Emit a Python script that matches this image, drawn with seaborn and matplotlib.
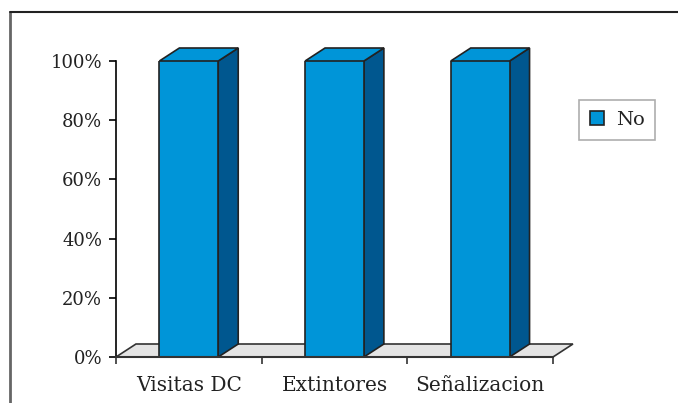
import numpy as np
import pandas as pd
import seaborn as sns
import matplotlib.pyplot as plt
from matplotlib.patches import Polygon
from matplotlib.lines import Line2D

# Datos
categorias = ['Visitas DC', 'Extintores', 'Señalizacion']
valores_no = [100, 100, 100]
serie = 'No'
y_ticks = [0, 20, 40, 60, 80, 100]
y_labels = ['0%', '20%', '40%', '60%', '80%', '100%']

FRONT = '#0095d8'
TOP = '#0095d8'
SIDE = '#00578f'
FLOOR = '#e4e4e4'
EDGE = '#222222'

sns.set_style('white')
plt.rcParams['font.family'] = ['DejaVu Serif']

df = pd.DataFrame({'categoria': categorias, 'valor': valores_no})

fig = plt.figure(figsize=(6.78, 4.03), dpi=100)
ax = fig.add_axes([116 / 678, 46 / 403, 437 / 678, 296 / 403])

sns.barplot(data=df, x='categoria', y='valor', color=FRONT, width=0.404,
            saturation=1, edgecolor=EDGE, linewidth=1.2, label=serie, ax=ax, zorder=3)

ax.set_xlim(-0.5, 2.5)
ax.set_ylim(0, 100)

# profundidad 3D (en unidades de datos)
dx = 20 / 146
dy = 13 / 296 * 100

# piso
floor = Polygon([(-0.5, 0), (-0.5 + dx, dy), (2.5 + dx, dy), (2.5, 0)],
                closed=True, facecolor=FLOOR, edgecolor='#333333', linewidth=1.2,
                clip_on=False, zorder=1)
ax.add_patch(floor)

for p in ax.patches[:len(categorias)]:
    x0 = p.get_x()
    w = p.get_width()
    h = p.get_height()
    x1 = x0 + w
    side = Polygon([(x1, 0), (x1 + dx, dy), (x1 + dx, h + dy), (x1, h)],
                   closed=True, facecolor=SIDE, edgecolor=EDGE, linewidth=1.2,
                   clip_on=False, zorder=2)
    top = Polygon([(x0, h), (x0 + dx, h + dy), (x1 + dx, h + dy), (x1, h)],
                  closed=True, facecolor=TOP, edgecolor=EDGE, linewidth=1.2,
                  clip_on=False, zorder=2)
    ax.add_patch(side)
    ax.add_patch(top)

# ejes
for s in ['top', 'right']:
    ax.spines[s].set_visible(False)
ax.spines['left'].set_color('black')
ax.spines['bottom'].set_color('#333333')
ax.spines['left'].set_linewidth(1.2)
ax.spines['bottom'].set_linewidth(1.5)
ax.spines['bottom'].set_zorder(4)

ax.set_yticks(y_ticks)
ax.set_yticklabels(y_labels, fontsize=13, color='#222222')
ax.tick_params(axis='y', direction='out', length=5, width=1.2, color='black', left=True, pad=5)

ax.set_xticks(range(len(categorias)))
ax.set_xticklabels(categorias, fontsize=14.5, color='#222222')
ax.tick_params(axis='x', which='major', length=0, pad=14)
ax.set_xticks([-0.5, 0.5, 1.5, 2.5], minor=True)
ax.tick_params(axis='x', which='minor', direction='out', length=5, width=1.2,
               color='#333333', bottom=True)
ax.set_xlabel('')
ax.set_ylabel('')

# leyenda
leg = ax.legend(loc='center', bbox_to_anchor=(617 / 678, 1 - 120 / 403),
                bbox_transform=fig.transFigure, frameon=True, fancybox=False,
                handlelength=0.75, handleheight=0.75, fontsize=14,
                borderpad=0.55, handletextpad=0.6, borderaxespad=0)
leg.get_frame().set_edgecolor('#999999')
leg.get_frame().set_linewidth(1.2)
for t in leg.get_texts():
    t.set_color('#222222')

# marco de la figura
fig.add_artist(Line2D([10 / 678, 10 / 678], [0, 1 - 12 / 403], transform=fig.transFigure,
                      color='#666666', linewidth=2))
fig.add_artist(Line2D([10 / 678, 1], [1 - 12 / 403, 1 - 12 / 403], transform=fig.transFigure,
                      color='#222222', linewidth=1.5))

fig.savefig('out.png', dpi=100)
plt.close(fig)
